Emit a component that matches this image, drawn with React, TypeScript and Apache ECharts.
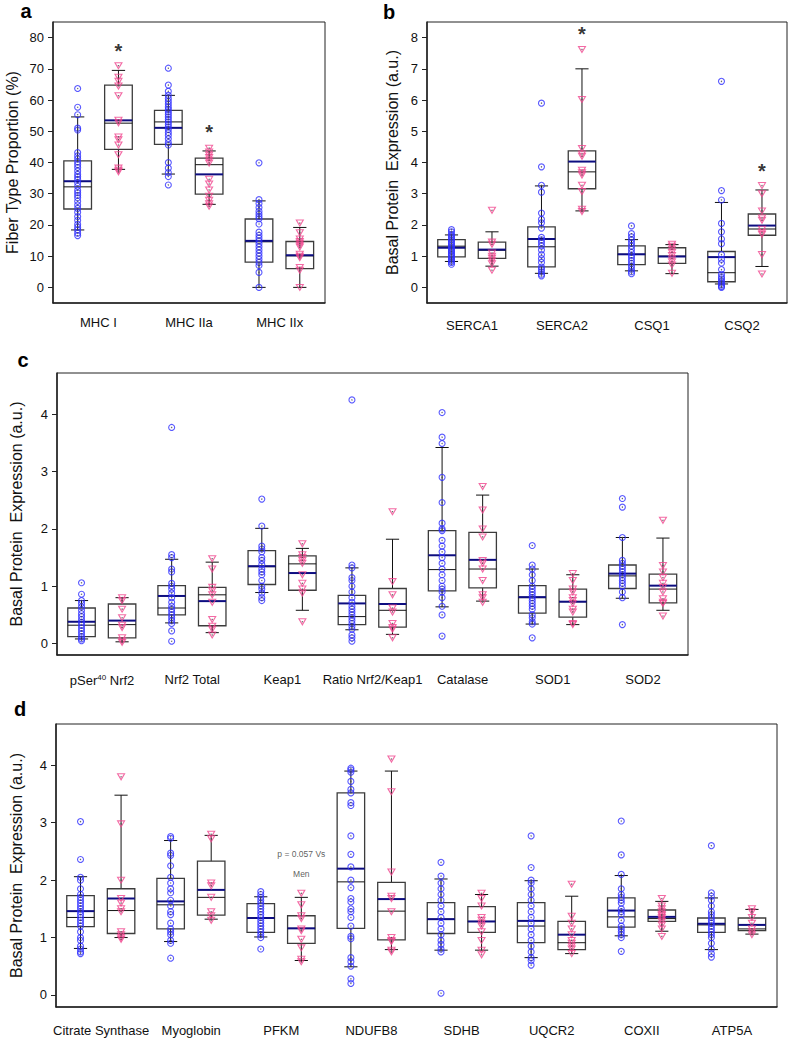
import React, { useEffect, useRef } from 'react';
import * as echarts from 'echarts';

const FONT = '"Liberation Sans", Arial, Helvetica, sans-serif';
const MEN_COLOR = '#2f2fff';
const WOMEN_COLOR = '#f0468f';
const MEAN_COLOR = '#0d0d80';

// ---------- Panel a ----------
const aCategories = ['MHC I', 'MHC IIa', 'MHC IIx'];
const aTicks = [0, 10, 20, 30, 40, 50, 60, 70, 80];
// [lowWhisker, Q1, median, Q3, highWhisker, mean]
const aMenStats = [
  [18.4, 25.1, 32.2, 40.5, 54.6, 34.0],
  [36.3, 45.8, 53.0, 56.7, 61.5, 51.1],
  [0, 8.1, 14.6, 21.9, 27.7, 14.9],
];
const aWomenStats = [
  [37.8, 44.2, 52.6, 64.8, 69.5, 53.5],
  [26.6, 29.9, 39.3, 41.4, 43.7, 36.2],
  [0, 6.0, 10.1, 14.7, 19.2, 10.3],
];
const aMenPoints = [
  [63.7, 57.7, 55.3, 51.0, 50.4, 43.2, 42.1, 41.2, 40.2, 39.3, 38.4, 37.3, 36.2, 35.4, 34.6, 33.5, 32.4, 31.1, 30.3, 29.5, 28.7, 27.6, 26.4, 25.3, 24.1, 22.7, 21.5, 20.2, 19.3, 18.4, 17.4, 16.6],
  [70.2, 64.8, 62.8, 61.5, 60.5, 59.6, 58.7, 57.8, 57.0, 56.2, 55.4, 54.6, 53.8, 53.0, 52.2, 51.4, 50.6, 49.6, 48.7, 47.6, 46.4, 45.6, 40.0, 38.2, 36.8, 35.5, 32.8],
  [39.9, 28.1, 26.9, 25.6, 24.4, 23.5, 22.7, 22.0, 20.3, 17.7, 16.7, 15.8, 14.9, 14.0, 13.0, 12.0, 11.0, 10.0, 9.0, 8.0, 7.0, 4.8, 0],
];
const aWomenPoints = [
  [71.0, 67.3, 66.0, 64.5, 61.4, 53.5, 52.7, 48.2, 47.3, 45.6, 42.5, 38.2, 37.5, 37.0],
  [44.6, 43.4, 42.4, 41.6, 40.7, 39.8, 34.6, 33.1, 31.2, 29.2, 27.9, 26.8, 26.0],
  [20.6, 17.5, 15.5, 14.7, 14.1, 13.5, 12.9, 10.6, 10.0, 9.5, 6.4, 5.5, 0],
];
const aStarCats = [0, 1];
const aStarValues = [77, 51];

// ---------- Panel b ----------
const bCategories = ['SERCA1', 'SERCA2', 'CSQ1', 'CSQ2'];
const bTicks = [0, 1, 2, 3, 4, 5, 6, 7, 8];
const bMenStats = [
  [0.83, 0.98, 1.32, 1.53, 1.68, 1.27],
  [0.45, 0.66, 1.30, 1.94, 3.25, 1.55],
  [0.53, 0.73, 1.06, 1.33, 1.53, 1.06],
  [0.11, 0.18, 0.47, 1.15, 2.72, 0.97],
];
const bWomenStats = [
  [0.68, 0.93, 1.19, 1.45, 1.78, 1.21],
  [2.45, 3.16, 3.70, 4.37, 7.00, 4.03],
  [0.44, 0.77, 1.00, 1.27, 1.37, 0.99],
  [0.67, 1.67, 1.87, 2.35, 3.12, 1.98],
];
const bMenPoints = [
  [1.85, 1.78, 1.70, 1.64, 1.58, 1.52, 1.46, 1.40, 1.35, 1.30, 1.25, 1.20, 1.15, 1.10, 1.05, 1.00, 0.95, 0.90, 0.85, 0.80, 0.74],
  [5.90, 3.86, 3.27, 3.05, 2.38, 2.18, 2.07, 1.90, 1.60, 1.52, 1.43, 1.33, 1.20, 1.05, 0.92, 0.80, 0.65, 0.58, 0.50, 0.42, 0.37],
  [1.97, 1.72, 1.62, 1.52, 1.42, 1.32, 1.22, 1.12, 1.03, 0.95, 0.86, 0.77, 0.68, 0.58, 0.50, 0.44],
  [6.60, 3.10, 2.80, 2.05, 1.78, 1.55, 1.40, 1.05, 0.90, 0.78, 0.57, 0.42, 0.33, 0.27, 0.20, 0.14, 0.08, 0.03, 0.0],
];
const bWomenPoints = [
  [2.47, 1.45, 1.38, 1.10, 1.00, 0.93, 0.85, 0.76, 0.55],
  [7.62, 6.02, 4.45, 4.27, 4.20, 3.75, 3.67, 3.60, 3.27, 3.07, 2.50, 2.43],
  [1.38, 1.32, 1.22, 1.12, 1.02, 0.92, 0.82, 0.72, 0.45],
  [3.26, 3.00, 2.45, 2.22, 2.15, 1.86, 1.76, 1.70, 1.05, 0.43],
];
const bStarCats = [1, 3];
const bStarValues = [8.24, 3.85];

// ---------- Panel c ----------
const cCategories = ['pSer40 Nrf2', 'Nrf2 Total', 'Keap1', 'Ratio Nrf2/Keap1', 'Catalase', 'SOD1', 'SOD2'];
const cTicks = [0, 1, 2, 3, 4];
const cMenStats = [
  [0.08, 0.12, 0.32, 0.62, 0.75, 0.38],
  [0.36, 0.50, 0.62, 1.01, 1.47, 0.83],
  [0.89, 1.03, 1.34, 1.62, 2.01, 1.35],
  [0.24, 0.33, 0.47, 0.84, 1.32, 0.70],
  [0.64, 0.92, 1.29, 1.97, 3.42, 1.54],
  [0.34, 0.53, 0.80, 1.01, 1.30, 0.81],
  [0.79, 0.96, 1.18, 1.37, 1.85, 1.22],
];
const cWomenStats = [
  [0.03, 0.10, 0.33, 0.69, 0.80, 0.40],
  [0.19, 0.31, 0.85, 0.98, 1.42, 0.74],
  [0.58, 0.93, 1.39, 1.53, 1.66, 1.23],
  [0.16, 0.285, 0.58, 0.96, 1.82, 0.69],
  [0.74, 0.97, 1.30, 1.94, 2.59, 1.46],
  [0.33, 0.46, 0.73, 0.95, 1.20, 0.73],
  [0.58, 0.71, 0.95, 1.21, 1.84, 1.01],
];
const cMenPoints = [
  [1.06, 0.86, 0.75, 0.70, 0.64, 0.58, 0.52, 0.47, 0.42, 0.37, 0.32, 0.27, 0.22, 0.17, 0.12, 0.08, 0.05],
  [3.77, 1.55, 1.50, 1.30, 1.25, 1.05, 1.00, 0.95, 0.88, 0.80, 0.72, 0.65, 0.60, 0.55, 0.50, 0.45, 0.40, 0.35, 0.22, 0.04],
  [2.52, 2.05, 1.70, 1.65, 1.60, 1.50, 1.45, 1.38, 1.30, 1.25, 1.20, 1.10, 1.00, 0.95, 0.88, 0.80, 0.75],
  [4.25, 1.37, 1.32, 1.15, 1.10, 1.00, 0.90, 0.80, 0.72, 0.65, 0.60, 0.55, 0.50, 0.45, 0.40, 0.35, 0.30, 0.25, 0.15, 0.10, 0.04],
  [4.03, 3.60, 3.49, 2.90, 2.46, 2.10, 2.00, 1.97, 1.80, 1.70, 1.60, 1.50, 1.40, 1.30, 1.20, 1.10, 1.00, 0.95, 0.90, 0.80, 0.65, 0.50, 0.13],
  [1.71, 1.37, 1.30, 1.20, 1.10, 1.00, 0.95, 0.90, 0.85, 0.80, 0.75, 0.70, 0.65, 0.60, 0.50, 0.45, 0.38, 0.34, 0.10],
  [2.53, 2.38, 1.85, 1.45, 1.40, 1.35, 1.30, 1.25, 1.20, 1.15, 1.10, 1.05, 1.00, 0.90, 0.80, 0.33],
];
const cWomenPoints = [
  [0.80, 0.75, 0.60, 0.45, 0.32, 0.28, 0.10, 0.05, 0.02],
  [1.48, 1.30, 0.98, 0.92, 0.85, 0.72, 0.42, 0.30, 0.25, 0.15],
  [1.74, 1.55, 1.50, 1.45, 1.40, 1.20, 1.05, 0.95, 0.88, 0.38],
  [2.30, 1.08, 0.85, 0.62, 0.55, 0.35, 0.28, 0.25, 0.10],
  [2.74, 2.33, 2.00, 1.86, 1.45, 1.40, 1.30, 1.10, 0.85, 0.80, 0.72],
  [1.22, 1.10, 0.95, 0.90, 0.80, 0.75, 0.70, 0.60, 0.55, 0.35, 0.33],
  [2.15, 1.36, 1.25, 1.15, 1.05, 0.98, 0.90, 0.78, 0.72, 0.70, 0.48],
];

// ---------- Panel d ----------
const dCategories = ['Citrate Synthase', 'Myoglobin', 'PFKM', 'NDUFB8', 'SDHB', 'UQCR2', 'COXII', 'ATP5A'];
const dTicks = [0, 1, 2, 3, 4];
const dMenStats = [
  [0.81, 1.19, 1.35, 1.73, 2.06, 1.46],
  [0.93, 1.15, 1.57, 2.03, 2.69, 1.63],
  [1.01, 1.09, 1.34, 1.59, 1.71, 1.34],
  [0.49, 1.16, 1.97, 3.52, 3.90, 2.20],
  [0.78, 1.07, 1.32, 1.61, 2.02, 1.32],
  [0.65, 0.91, 1.20, 1.61, 1.99, 1.29],
  [1.03, 1.18, 1.36, 1.69, 2.08, 1.47],
  [0.79, 1.09, 1.22, 1.34, 1.69, 1.24],
];
const dWomenStats = [
  [1.00, 1.07, 1.47, 1.85, 3.48, 1.68],
  [1.32, 1.39, 1.70, 2.33, 2.78, 1.83],
  [0.60, 0.90, 1.16, 1.38, 1.70, 1.16],
  [0.79, 0.96, 1.46, 1.96, 3.90, 1.67],
  [0.78, 1.09, 1.28, 1.54, 1.75, 1.28],
  [0.72, 0.79, 0.91, 1.28, 1.72, 1.05],
  [1.11, 1.28, 1.33, 1.48, 1.63, 1.36],
  [1.06, 1.12, 1.15, 1.34, 1.49, 1.22],
];
const dMenPoints = [
  [3.02, 2.36, 2.05, 2.00, 1.85, 1.75, 1.70, 1.65, 1.60, 1.55, 1.50, 1.45, 1.40, 1.35, 1.30, 1.25, 1.20, 1.10, 1.00, 0.95, 0.85, 0.80, 0.75, 0.72],
  [2.76, 2.73, 2.47, 2.43, 2.25, 2.05, 1.95, 1.85, 1.78, 1.65, 1.55, 1.45, 1.40, 1.25, 1.15, 1.10, 1.05, 0.95, 0.90, 0.64],
  [1.80, 1.75, 1.70, 1.65, 1.60, 1.55, 1.50, 1.45, 1.40, 1.35, 1.30, 1.25, 1.20, 1.15, 1.10, 1.05, 1.00, 0.80],
  [3.95, 3.92, 3.88, 3.72, 3.58, 3.52, 3.35, 3.30, 2.77, 2.45, 2.23, 2.00, 1.87, 1.68, 1.62, 1.50, 1.45, 1.35, 1.20, 1.02, 0.98, 0.65, 0.58, 0.50, 0.28, 0.20],
  [2.31, 2.07, 1.95, 1.85, 1.75, 1.65, 1.55, 1.45, 1.35, 1.25, 1.15, 1.05, 0.95, 0.88, 0.80, 0.75, 0.03],
  [2.77, 2.22, 2.00, 1.95, 1.85, 1.75, 1.65, 1.55, 1.45, 1.35, 1.25, 1.15, 1.05, 0.95, 0.85, 0.75, 0.65, 0.60, 0.52],
  [3.03, 2.44, 2.10, 1.85, 1.75, 1.70, 1.65, 1.60, 1.50, 1.45, 1.40, 1.30, 1.20, 1.15, 1.10, 1.05, 1.00, 0.76],
  [2.60, 1.78, 1.72, 1.65, 1.55, 1.45, 1.40, 1.35, 1.30, 1.25, 1.20, 1.15, 1.10, 1.05, 1.00, 0.90, 0.80, 0.72, 0.66],
];
const dWomenPoints = [
  [3.80, 2.98, 2.00, 1.68, 1.60, 1.50, 1.45, 1.10, 1.05, 1.00, 0.97],
  [2.80, 2.72, 1.95, 1.90, 1.70, 1.45, 1.38, 1.30],
  [1.77, 1.57, 1.38, 1.33, 1.15, 1.12, 0.97, 0.82, 0.62, 0.58],
  [4.11, 3.54, 2.14, 1.72, 1.68, 1.45, 1.00, 0.95, 0.93, 0.78, 0.75],
  [1.77, 1.68, 1.55, 1.35, 1.30, 1.25, 1.20, 1.10, 0.95, 0.78, 0.70],
  [1.93, 1.37, 1.25, 1.15, 1.05, 0.95, 0.90, 0.85, 0.80, 0.72],
  [1.68, 1.55, 1.50, 1.45, 1.40, 1.38, 1.35, 1.32, 1.28, 1.22, 1.15, 1.02],
  [1.50, 1.45, 1.35, 1.25, 1.15, 1.10, 1.05],
];
const dNoteCat = 2;
const dNoteTexts = ['p = 0.057 Vs', 'Men'];
const dNoteValues = [2.46, 2.11];

// ---------- layout ----------
const MEN_OFF = -0.228;
const WOMEN_OFF = 0.222;
const BOX_W = 0.305;

function renderBox(_params: any, api: any) {
  const x = api.value(0);
  const lo = api.coord([x, api.value(1)]);
  const q1 = api.coord([x, api.value(2)]);
  const md = api.coord([x, api.value(3)]);
  const q3 = api.coord([x, api.value(4)]);
  const hi = api.coord([x, api.value(5)]);
  const mn = api.coord([x, api.value(6)]);
  const half = api.size([BOX_W, 0])[0] / 2;
  const cap = half * 0.48;
  const cx = lo[0];
  const L = (x1: number, y1: number, x2: number, y2: number, stroke: string, w: number) => ({
    type: 'line',
    shape: { x1, y1, x2, y2 },
    style: { stroke, lineWidth: w },
  });
  return {
    type: 'group',
    children: [
      L(cx, lo[1], cx, q1[1], '#111', 1),
      L(cx, q3[1], cx, hi[1], '#111', 1),
      L(cx - cap, lo[1], cx + cap, lo[1], '#111', 1),
      L(cx - cap, hi[1], cx + cap, hi[1], '#111', 1),
      {
        type: 'rect',
        shape: { x: cx - half, y: q3[1], width: 2 * half, height: q1[1] - q3[1] },
        style: { fill: 'none', stroke: '#3c3c3c', lineWidth: 1.3 },
      },
      L(cx - half, md[1], cx + half, md[1], '#111', 1),
      L(cx - half, mn[1], cx + half, mn[1], MEAN_COLOR, 2),
    ],
  };
}

type Panel = {
  cats: string[];
  ticks: number[];
  men: number[][];
  women: number[][];
  menPts: number[][];
  womenPts: number[][];
  grid: { left: number; top: number; width: number; height: number };
  yMin: number;
  yMax: number;
  yName: string;
  nameGap: number;
  labelMargin: number;
};

const panels: Panel[] = [
  { cats: aCategories, ticks: aTicks, men: aMenStats, women: aWomenStats, menPts: aMenPoints, womenPts: aWomenPoints,
    grid: { left: 53, top: 22, width: 272, height: 281 }, yMin: -5, yMax: 85, yName: 'Fiber Type Proportion (%)', nameGap: 33, labelMargin: 13 },
  { cats: bCategories, ticks: bTicks, men: bMenStats, women: bWomenStats, menPts: bMenPoints, womenPts: bWomenPoints,
    grid: { left: 427, top: 22, width: 360, height: 281 }, yMin: -0.5, yMax: 8.5, yName: 'Basal Protein  Expression (a.u.)', nameGap: 27, labelMargin: 16 },
  { cats: cCategories, ticks: cTicks, men: cMenStats, women: cWomenStats, menPts: cMenPoints, womenPts: cWomenPoints,
    grid: { left: 53, top: 373, width: 635, height: 282 }, yMin: -0.2, yMax: 4.72, yName: 'Basal Protein  Expression (a.u.)', nameGap: 33, labelMargin: 18 },
  { cats: dCategories, ticks: dTicks, men: dMenStats, women: dWomenStats, menPts: dMenPoints, womenPts: dWomenPoints,
    grid: { left: 52, top: 724, width: 725, height: 283 }, yMin: -0.21, yMax: 4.72, yName: 'Basal Protein  Expression (a.u.)', nameGap: 32, labelMargin: 17 },
];

function buildOption() {
  const grid: any[] = [];
  const xAxis: any[] = [];
  const yAxis: any[] = [];
  const series: any[] = [];
  panels.forEach((p, i) => {
    grid.push({ ...p.grid, show: true, borderColor: '#222', borderWidth: 1, backgroundColor: 'transparent' });
    xAxis.push({
      type: 'category', gridIndex: i, data: p.cats, boundaryGap: true,
      axisLine: { onZero: false, lineStyle: { color: '#222', width: 1.5 } },
      axisTick: { alignWithLabel: true, length: 5, lineStyle: { color: '#222' } },
      axisLabel: {
        interval: 0, fontSize: 13, color: '#111', fontFamily: FONT, margin: p.labelMargin,
        formatter: (v: string) => (v.startsWith('pSer40') ? '{n|pSer}{sup|40}{n|' + v.slice(6) + '}' : v),
        rich: {
          n: { fontSize: 13, fontFamily: FONT, color: '#111', verticalAlign: 'bottom' },
          sup: { fontSize: 8, fontFamily: FONT, color: '#111', verticalAlign: 'bottom', padding: [0, 0, 6, 0] },
        },
      },
      splitLine: { show: false },
    });
    xAxis.push({ type: 'value', gridIndex: i, min: -0.5, max: p.cats.length - 0.5, show: false });
    yAxis.push({
      type: 'value', gridIndex: i, min: p.yMin, max: p.yMax,
      name: p.yName, nameLocation: 'middle', nameGap: p.nameGap,
      nameTextStyle: { fontSize: 16, fontFamily: FONT, color: '#111' },
      axisLine: { show: true, onZero: false, lineStyle: { color: '#222', width: 1.5 } },
      axisTick: { show: true, length: 5, customValues: p.ticks, lineStyle: { color: '#222' } },
      axisLabel: { customValues: p.ticks, fontSize: 13, color: '#111', fontFamily: FONT, margin: 9 },
      splitLine: { show: false },
    });
    const xIdx = 2 * i + 1;
    const menData = p.menPts.flatMap((arr, k) => arr.map((v) => [k + MEN_OFF, v]));
    const womenData = p.womenPts.flatMap((arr, k) => arr.map((v) => [k + WOMEN_OFF, v]));
    series.push({
      type: 'custom', xAxisIndex: xIdx, yAxisIndex: i, renderItem: renderBox, silent: true, clip: false,
      data: p.men.map((s, k) => [k + MEN_OFF, ...s]),
    });
    series.push({
      type: 'custom', xAxisIndex: xIdx, yAxisIndex: i, renderItem: renderBox, silent: true, clip: false,
      data: p.women.map((s, k) => [k + WOMEN_OFF, ...s]),
    });
    series.push({
      type: 'scatter', xAxisIndex: xIdx, yAxisIndex: i, silent: true, symbol: 'circle', symbolSize: 6,
      itemStyle: { color: 'rgba(0,0,0,0)', borderColor: MEN_COLOR, borderWidth: 1.1 },
      data: menData,
    });
    series.push({
      type: 'scatter', xAxisIndex: xIdx, yAxisIndex: i, silent: true, symbol: 'triangle', symbolRotate: 180,
      symbolSize: [7, 6],
      itemStyle: { color: 'rgba(0,0,0,0)', borderColor: WOMEN_COLOR, borderWidth: 1.1 },
      data: womenData,
    });
    // small centre dots, as in the original markers
    series.push({
      type: 'scatter', xAxisIndex: xIdx, yAxisIndex: i, silent: true, symbol: 'circle', symbolSize: 1.4,
      itemStyle: { color: '#444' },
      data: menData.concat(womenData),
    });
  });

  const star = (xIdx: number, yIdx: number, cats: number[], vals: number[]) => ({
    type: 'scatter', xAxisIndex: xIdx, yAxisIndex: yIdx, silent: true, symbolSize: 1,
    itemStyle: { color: 'rgba(0,0,0,0)' },
    label: { show: true, position: 'inside', formatter: '*', fontSize: 20, fontWeight: 'bold', color: '#000', fontFamily: FONT, offset: [0, 4] },
    data: cats.map((c, k) => [c + WOMEN_OFF, vals[k]]),
  });
  series.push(star(1, 0, aStarCats, aStarValues));
  series.push(star(3, 1, bStarCats, bStarValues));
  series.push({
    type: 'scatter', xAxisIndex: 7, yAxisIndex: 3, silent: true, symbolSize: 1,
    itemStyle: { color: 'rgba(0,0,0,0)' },
    label: { show: true, position: 'inside', formatter: (q: any) => q.data[2], fontSize: 8.5, color: '#333', fontFamily: FONT },
    data: dNoteTexts.map((t, k) => [dNoteCat + WOMEN_OFF, dNoteValues[k], t]),
  });

  const letter = (t: string, x: number, y: number) => ({
    type: 'text', x, y,
    style: { text: t, fontSize: 20, fontWeight: 'bold', fontFamily: FONT, fill: '#000', align: 'center', verticalAlign: 'middle' },
  });

  return {
    animation: false,
    backgroundColor: '#fff',
    grid, xAxis, yAxis, series,
    graphic: [letter('a', 26, 11), letter('b', 389, 12), letter('c', 23, 360), letter('d', 20, 709)],
  };
}

export default function App() {
  const ref = useRef<HTMLDivElement>(null);
  useEffect(() => {
    if (!ref.current) return;
    const chart = echarts.init(ref.current, undefined, { renderer: 'svg' });
    chart.setOption(buildOption() as any);
    return () => chart.dispose();
  }, []);
  return <div ref={ref} style={{ position: 'absolute', left: 0, top: 0, width: 790, height: 1039 }} />;
}
